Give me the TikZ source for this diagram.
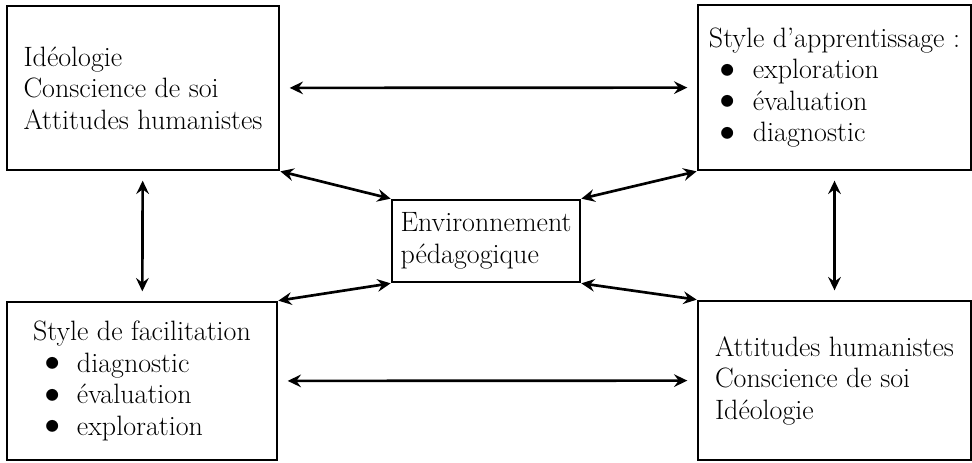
\documentclass[tikz,border=0pt]{standalone}
\usepackage{amsmath, amssymb}
\usetikzlibrary{arrows.meta}

\newcommand{\puce}{\smash{\raisebox{-0.2em}{\scalebox{1.9}{\textbullet}}}\kern0.2em}

\begin{document}
\begin{tikzpicture}[x=0.75pt, y=-0.75pt,
        >={Stealth[length=10pt, width=9.5pt, inset=3.5pt]},
        boite/.style={draw, line width=2pt, align=left, inner sep=0pt,
            font=\fontsize{21}{23.6}\selectfont},
        fleche/.style={<->, line width=2pt, shorten <=7pt, shorten >=7pt},
        diag/.style={<->, line width=2pt}]

        \useasboundingbox (0,0) rectangle (972,462);

        % Draw the four outer boxes
        \node[boite, minimum width=204pt, minimum height=123pt] (ideo) at (143,88)
            {Idéologie\\Conscience de soi\\Attitudes humanistes};
        \node[boite, minimum width=204.75pt, minimum height=123.75pt] (appr) at (834.5,87.5)
            {Style d’apprentissage~:\\\puce exploration\\\puce évaluation\\\puce diagnostic};
        \node[boite, minimum width=202.5pt, minimum height=118.5pt] (facil) at (142,381)
            {Style de facilitation\\\puce diagnostic\\\puce évaluation\\\puce exploration};
        \node[boite, minimum width=204.75pt, minimum height=119.25pt] (attit) at (834.5,380.5)
            {Attitudes humanistes\\Conscience de soi\\Idéologie};

        % Draw the middle box
        \node[boite, minimum width=141pt, minimum height=61.5pt] (env) at (486,241)
            {Environnement\\pédagogique};

        % Draw the arrows between the outer boxes
        \draw[fleche] (ideo) -- (appr);
        \draw[fleche] (facil) -- (attit);
        \draw[fleche] (ideo) -- (facil);
        \draw[fleche] (appr) -- (attit);

        % Draw the arrows to the middle box
        \draw[diag] (ideo.south east) -- (env.north west);
        \draw[diag] (appr.south west) -- (env.north east);
        \draw[diag] (facil.north east) -- (env.south west);
        \draw[diag] (attit.north west) -- (env.south east);

    \end{tikzpicture}
\end{document}
